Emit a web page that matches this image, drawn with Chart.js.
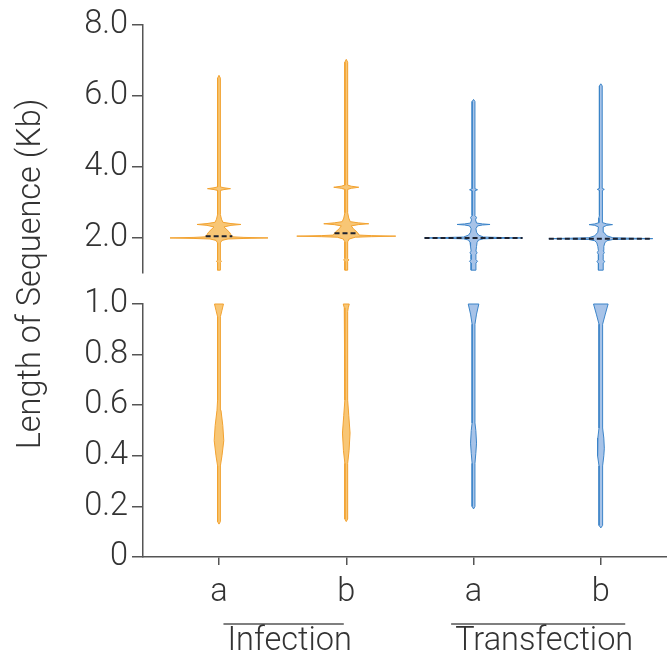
<!DOCTYPE html>
<html>
<head>
<meta charset="utf-8">
<script src="https://cdn.jsdelivr.net/npm/chart.js@4.4.1/dist/chart.umd.min.js"></script>
<style>
  html, body { margin: 0; padding: 0; background: #fff; }
  #wrap { position: relative; width: 667px; height: 661px; }
  #wrap canvas { position: absolute; left: 0; top: 0; }
</style>
</head>
<body>
<div id="wrap">
  <canvas id="topChart" width="667" height="661"></canvas>
  <canvas id="botChart" width="667" height="661"></canvas>
</div>
<script>
// categories and groups
const categories = ["a", "b", "a", "b"];
const groups = ["Infection", "Transfection"];
const groupMembers = [[1, 2], [3, 4]];
const topTicks = [2, 4, 6, 8];
const bottomTicks = [0, 0.2, 0.4, 0.6, 0.8, 1.0];
const yTitle = "Length of Sequence (Kb)";

// medians (Kb)
const medians = [2.04, 2.12, 1.99, 1.97];

// violin outlines: [length (Kb), half width]
// upper panel (1 - 8 Kb)
const infATop = [[1.08,1.4],[1.30,1.4],[1.33,2.6],[1.36,1.4],[1.85,1.4],[1.92,3],[1.96,9],[1.975,25],[1.99,49],[2.005,25],[2.02,14],[2.08,12],[2.15,10.5],[2.22,8],[2.30,5],[2.345,12],[2.37,22],[2.395,12],[2.43,4],[2.52,2.5],[2.65,1.4],[3.33,1.4],[3.355,5],[3.38,11.5],[3.405,5],[3.43,1.4],[6.5,1.4],[6.58,0]];
const infBTop = [[1.08,1.4],[1.33,1.4],[1.37,2.6],[1.41,1.4],[1.88,1.4],[1.96,3],[2.01,9],[2.025,25],[2.04,49.5],[2.055,25],[2.07,13],[2.15,11],[2.25,7],[2.33,5],[2.365,12],[2.39,22.5],[2.415,12],[2.45,4],[2.55,2.5],[2.7,1.4],[3.36,1.4],[3.39,5],[3.42,12.5],[3.45,5],[3.48,1.4],[6.95,1.4],[7.03,0]];
const traATop = [[1.08,2.4],[1.28,2.4],[1.33,4],[1.38,2.4],[1.52,2.4],[1.57,3.6],[1.62,2.4],[1.75,3],[1.86,3.5],[1.93,5],[1.965,10],[1.978,28],[1.99,49],[2.002,28],[2.015,10],[2.07,5],[2.15,3],[2.25,2.4],[2.33,4],[2.355,9],[2.37,16.5],[2.385,9],[2.41,3],[2.5,2],[2.57,3],[2.62,1.4],[3.32,1.4],[3.35,4],[3.38,1.4],[5.84,1.4],[5.9,0]];
const traBTop = [[1.08,2.4],[1.28,2.4],[1.32,4],[1.37,2.4],[1.52,2.4],[1.58,3.5],[1.63,2.4],[1.75,3],[1.85,4],[1.91,6],[1.945,12],[1.958,30],[1.97,52],[1.982,30],[1.995,12],[2.05,6],[2.15,3],[2.3,2.4],[2.345,6],[2.365,11.7],[2.385,6],[2.42,2],[2.55,2],[2.62,1.4],[3.33,1.4],[3.36,3.5],[3.39,1.4],[6.28,1.4],[6.34,0]];
// lower panel (0 - 1 Kb)
const infABot = [[0.13,0],[0.14,1.4],[0.36,1.4],[0.40,3],[0.46,4.8],[0.52,3.8],[0.58,2],[0.62,1.4],[0.95,1.4],[0.975,3],[1.0,4.5]];
const infBBot = [[0.14,0],[0.15,1.4],[0.37,1.4],[0.42,2.8],[0.49,3.8],[0.56,2.5],[0.62,1.4],[0.97,1.4],[0.985,2],[1.0,3]];
const traABot = [[0.19,0],[0.2,1.4],[0.37,1.4],[0.41,2.3],[0.45,3],[0.5,2.3],[0.53,1.4],[0.92,1.4],[0.96,3],[1.0,5.3]];
const traBBot = [[0.115,0],[0.125,1.8],[0.36,1.8],[0.40,3],[0.43,3.5],[0.47,3],[0.51,1.8],[0.92,1.8],[0.96,4.5],[1.0,7.3]];

const topProfiles = [infATop, infBTop, traATop, traBTop];
const botProfiles = [infABot, infBBot, traABot, traBBot];

const strokeColors = ["#F2A230", "#F2A230", "#3C84C8", "#3C84C8"];
const fillColors = ["#F8C675", "#F8C675", "#A7C3E8", "#A7C3E8"];
const halfWidthUnit = 1 / 127.3;
const FONT = { family: "Roboto, 'Liberation Sans', sans-serif", size: 32.5, weight: 300 };

Chart.defaults.color = "#333";
Chart.defaults.font.family = FONT.family;

function violinPoints(center, profile) {
  const right = profile.map(([y, w]) => ({ x: center + w * halfWidthUnit, y: y }));
  const left = profile.slice().reverse().map(([y, w]) => ({ x: center - w * halfWidthUnit, y: y }));
  return right.concat(left, [right[0]]);
}

function widthAt(profile, y) {
  for (let i = 1; i < profile.length; i++) {
    const [y0, w0] = profile[i - 1];
    const [y1, w1] = profile[i];
    if (y >= y0 && y <= y1) return w0 + (w1 - w0) * (y - y0) / (y1 - y0);
  }
  return 0;
}

function buildDatasets(profiles, withMedians) {
  const sets = [];
  profiles.forEach((p, i) => {
    const c = i + 1;
    sets.push({
      data: violinPoints(c, p),
      borderColor: strokeColors[i],
      backgroundColor: fillColors[i],
      borderWidth: 1,
      fill: "shape",
      pointRadius: 0,
      tension: 0,
      order: 2,
      clip: false
    });
    if (withMedians) {
      const w = widthAt(p, medians[i]) * halfWidthUnit;
      sets.push({
        data: [{ x: c - w, y: medians[i] }, { x: c + w, y: medians[i] }],
        borderColor: "#1d2230",
        borderWidth: 2,
        borderDash: [5, 3],
        fill: false,
        pointRadius: 0,
        order: 1,
        clip: false
      });
    }
  });
  return sets;
}

const xRange = { min: 0.403, max: 4.52 };

function yScale(min, max, ticks, fmt) {
  return {
    type: "linear",
    min: min,
    max: max,
    afterFit: (s) => { s.width = 143; },
    afterBuildTicks: (s) => { s.ticks = ticks.map(v => ({ value: v })); },
    border: { display: true, color: "#555", width: 1.5 },
    grid: { drawOnChartArea: false, drawTicks: true, tickLength: 11, color: "#555", lineWidth: 1.5 },
    ticks: { font: FONT, color: "#333", padding: 4, callback: fmt }
  };
}

const commonOpts = {
  responsive: false,
  animation: false,
  events: [],
  plugins: { legend: { display: false }, tooltip: { enabled: false } }
};

new Chart(document.getElementById("topChart"), {
  type: "line",
  data: { datasets: buildDatasets(topProfiles, true) },
  options: Object.assign({}, commonOpts, {
    layout: { padding: { top: 25, bottom: 388, left: 0, right: 0 } },
    scales: {
      x: { type: "linear", min: xRange.min, max: xRange.max, display: false },
      y: yScale(1, 8, topTicks, (v) => Number(v).toFixed(1))
    }
  })
});

const labelsPlugin = {
  id: "labelsPlugin",
  afterDraw(chart) {
    const { ctx } = chart;
    const x = chart.scales.x;
    ctx.save();
    ctx.font = "300 32.5px " + FONT.family;
    ctx.fillStyle = "#333";
    ctx.strokeStyle = "#555";
    ctx.lineWidth = 1.5;
    ctx.textAlign = "center";
    ctx.textBaseline = "middle";
    groups.forEach((g, i) => {
      const [a, b] = groupMembers[i];
      const cx = (x.getPixelForValue(a) + x.getPixelForValue(b)) / 2 + 7;
      const w = ctx.measureText(g).width;
      ctx.beginPath();
      ctx.moveTo(cx - w / 2 - 4, 624);
      ctx.lineTo(cx + w / 2 - 8, 624);
      ctx.stroke();
      ctx.fillText(g, cx, 642);
    });
    ctx.translate(32, 274);
    ctx.rotate(-Math.PI / 2);
    ctx.fillText(yTitle, 0, 0);
    ctx.restore();
  }
};

new Chart(document.getElementById("botChart"), {
  type: "line",
  data: { datasets: buildDatasets(botProfiles, false) },
  options: Object.assign({}, commonOpts, {
    layout: { padding: { top: 304, bottom: 0, left: 0, right: 0 } },
    scales: {
      x: {
        type: "linear",
        min: xRange.min,
        max: xRange.max,
        afterFit: (s) => { s.height = 104; },
        afterBuildTicks: (s) => { s.ticks = categories.map((c, i) => ({ value: i + 1 })); },
        border: { display: true, color: "#555", width: 1.5 },
        grid: { drawOnChartArea: false, drawTicks: true, tickLength: 8, color: "#555", lineWidth: 1.5 },
        ticks: { font: FONT, color: "#333", padding: 8, maxRotation: 0, callback: (v) => categories[Math.round(v) - 1] }
      },
      y: yScale(0, 1, bottomTicks, (v) => (v === 0 ? "0" : Number(v).toFixed(1)))
    }
  }),
  plugins: [labelsPlugin]
});
</script>
</body>
</html>
